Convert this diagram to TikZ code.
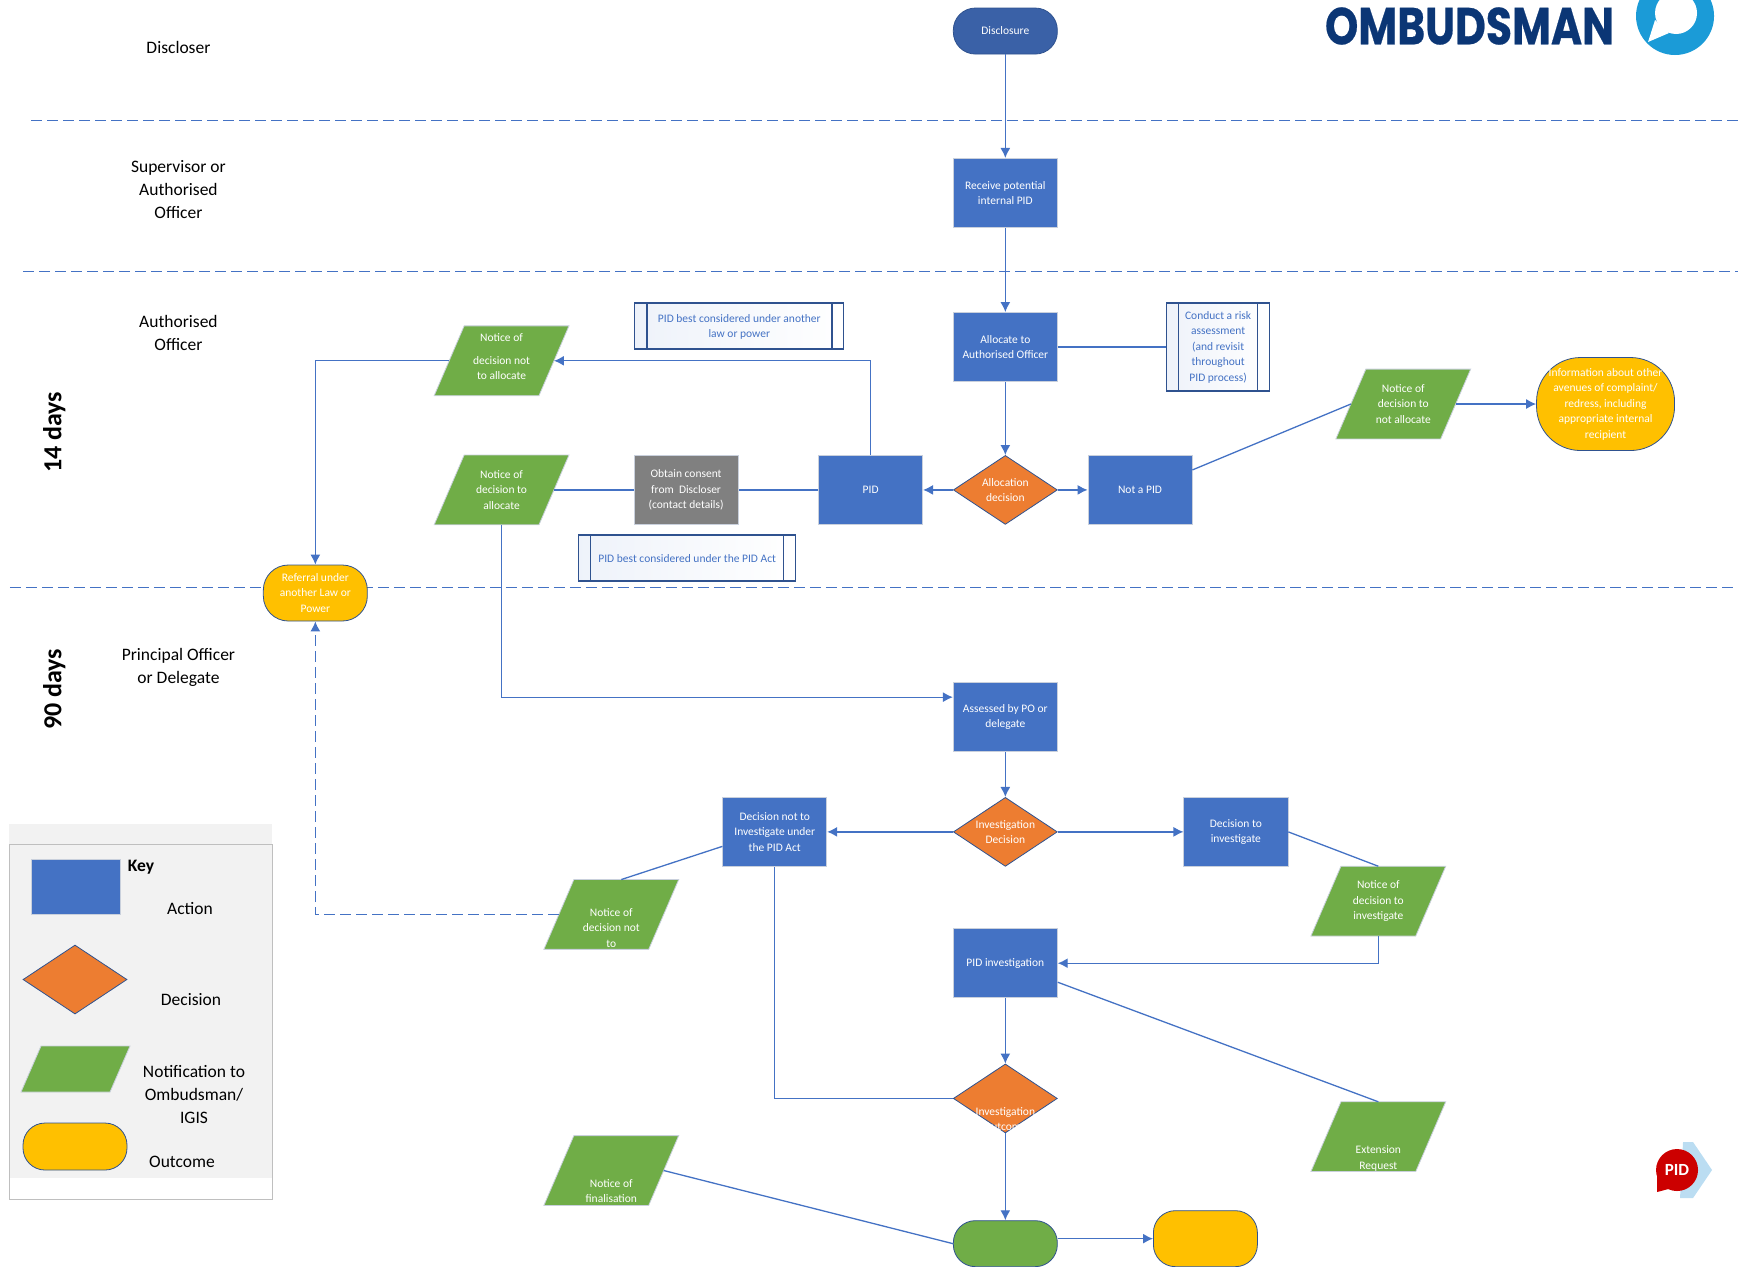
\documentclass[tikz,border=0pt]{standalone}
\usepackage{fontspec}
\usepackage{graphicx}
\setmainfont{Carlito}
\newfontfamily\logofont[BoldFeatures={FakeBold=0.5}]{Poppins}
\usetikzlibrary{arrows.meta,shapes.geometric,calc}
\makeatletter
\pgfdeclareshape{slantbox}{
  \inheritsavedanchors[from=rectangle]
  \inheritanchor[from=rectangle]{center}
  \inheritanchor[from=rectangle]{text}
  \inheritanchor[from=rectangle]{base}
  \inheritanchor[from=rectangle]{mid}
  \inheritanchor[from=rectangle]{north}
  \inheritanchor[from=rectangle]{south}
  \inheritanchorborder[from=rectangle]
  \anchor{west}{\southwest\pgf@xa=\pgf@x\pgf@ya=\pgf@y\northeast\pgf@yb=\pgf@y
    \pgf@x=\pgf@xa\advance\pgf@x by 15pt\pgf@y=.5\pgf@ya\advance\pgf@y by .5\pgf@yb}
  \anchor{east}{\southwest\pgf@ya=\pgf@y\northeast\pgf@xb=\pgf@x\pgf@yb=\pgf@y
    \pgf@x=\pgf@xb\advance\pgf@x by -15pt\pgf@y=.5\pgf@ya\advance\pgf@y by .5\pgf@yb}
  \backgroundpath{\southwest\pgf@xa=\pgf@x\pgf@ya=\pgf@y\northeast\pgf@xb=\pgf@x\pgf@yb=\pgf@y
    \pgfpathmoveto{\pgfqpoint{\pgf@xa}{\pgf@ya}}
    \pgfpathlineto{\pgfqpoint{\dimexpr\pgf@xa+30pt\relax}{\pgf@yb}}
    \pgfpathlineto{\pgfqpoint{\pgf@xb}{\pgf@yb}}
    \pgfpathlineto{\pgfqpoint{\dimexpr\pgf@xb-30pt\relax}{\pgf@ya}}
    \pgfpathclose}
}
\makeatother
\definecolor{actblue}{HTML}{4472C4}
\definecolor{outl}{HTML}{2F528F}
\definecolor{decor}{HTML}{ED7D31}
\definecolor{notgreen}{HTML}{70AD47}
\definecolor{outyel}{HTML}{FFC000}
\definecolor{pale}{HTML}{C9D0DC}
\definecolor{logonavy}{HTML}{0B3675}
\definecolor{logocyan}{HTML}{1B9BD7}
\definecolor{chev}{HTML}{BBDDF2}
\newcommand{\shifted}[2]{\smash{\raisebox{#1}{\begin{tabular}[c]{@{}c@{}}#2\end{tabular}}}}
\tikzset{
  txt/.style={font=\fontsize{11.5}{15.5}\selectfont,align=center,inner sep=0pt},
  actbox/.style={txt,rectangle,draw=pale,line width=.8pt,fill=actblue,text=white,minimum width=104pt,minimum height=69pt},
  greybox/.style={actbox,fill=black!50},
  decide/.style={txt,diamond,aspect=1.5,draw=outl,line width=.8pt,fill=decor,text=white,minimum width=104pt,minimum height=69pt},
  notice/.style={txt,slantbox,draw=pale,line width=.8pt,fill=notgreen,text=white,minimum width=134pt,minimum height=69pt},
  pill/.style={txt,rectangle,rounded corners=22pt,draw=outl,line width=.8pt,fill=outyel,text=white,minimum width=104pt,minimum height=56pt},
  predef/.style={txt,rectangle,draw=outl,line width=1.3pt,left color=actblue!9,right color=white,text=actblue,
    path picture={\draw[outl,line width=1.5pt]
      ([xshift=#1]path picture bounding box.south west)--([xshift=#1]path picture bounding box.north west)
      ([xshift=-#1]path picture bounding box.south east)--([xshift=-#1]path picture bounding box.north east);}},
  lane/.style={font=\fontsize{17.5}{23}\selectfont,align=center,inner sep=0pt},
  days/.style={font=\bfseries\fontsize{26}{28}\selectfont,rotate=90,inner sep=0pt},
  keytxt/.style={font=\fontsize{17.5}{23}\selectfont,align=center,inner sep=0pt},
  conn/.style={actblue,line width=1.3pt},
  flow/.style={conn,-{Latex[length=10pt,width=10pt]}},
  swim/.style={actblue,line width=1.2pt,dash pattern=on 11pt off 5pt},
}
\begin{document}
\begin{tikzpicture}[x=1.1084pt,y=-1.1084pt]
\useasboundingbox (0,0) rectangle (1568,1143);
% swimlane rules
\coordinate (l1a) at (28,108.5); \coordinate (l1b) at (1568,108.5);
\coordinate (l2a) at (21,245);   \coordinate (l2b) at (1568,245);
\coordinate (l3a) at (9,530);    \coordinate (l3b) at (1568,530);
\draw[swim] (l1a)--(l1b);
\draw[swim] (l2a)--(l2b);
\draw[swim] (l3a)--(l3b);
% lane labels
\node[lane] (ldisc) at (161,42.5) {Discloser};
\node[lane] (lsup) at (161,171) {Supervisor or\\Authorised\\Officer};
\node[lane] (lauth) at (161,300) {Authorised\\Officer};
\node[lane] (lprin) at (161,602.5) {Principal Officer\\or Delegate};
\node[days] (d14) at (49,390) {14 days};
\node[days] (d90) at (49,622) {90 days};
% logo
\begin{scope}[x=1pt,y=-1pt]
\fill[logocyan] (1675,16) circle (39);
\fill[white] (1676,13) circle (21);
\fill[white] (1648,42) -- (1655,20) -- (1669,33) -- cycle;
\node[inner sep=0pt,text=logonavy] (logo) at (1469.5,26) {\resizebox{289pt}{37pt}{\logofont\bfseries OMBUDSMAN}};
% PID badge
\fill[chev] (1683,1142) -- (1693,1142) -- (1712,1170) -- (1693,1198) -- (1680,1198) -- cycle;
\fill[red!80!black] (1677,1170) circle (21);
\fill[red!80!black] (1657,1170) -- (1657,1192) -- (1672,1188) -- cycle;
\node[inner sep=0pt,text=white,font=\bfseries\fontsize{17}{17}\selectfont] (pidlogo) at (1677,1170) {PID};
% key
\fill[black!5] (9,824) rectangle (272,1178);
\draw[black!25,line width=.8pt] (9,844) rectangle (272,1199);
\node[actbox,minimum width=89pt,minimum height=55pt] (kact) at (75.5,886.5) {};
\node[decide,minimum width=104pt,minimum height=69pt] (kdec) at (75,979.5) {};
\draw[pale,line width=.8pt,fill=notgreen] (21,1092) -- (41,1046) -- (130,1046) -- (110,1092) -- cycle;
\node[pill,minimum width=104pt,minimum height=47pt] (kout) at (75,1146.5) {};
\node[keytxt,font=\bfseries\fontsize{17.5}{23}\selectfont] (kkey) at (141,867) {Key};
\node[keytxt] (kt1) at (190,908) {Action};
\node[keytxt] (kt2) at (191,1000) {Decision};
\node[keytxt] (kt3) at (194,1094) {Notification to\\Ombudsman/\\IGIS};
\node[keytxt] (kt4) at (182,1162) {Outcome};
\end{scope}
% nodes
\node[pill,fill=actblue!85!black,minimum height=46pt] (disc) at (907,28) {Disclosure};
\node[actbox] (recv) at (907,174) {Receive potential\\internal PID};
\node[actbox] (alloc) at (907,313) {Allocate to\\Authorised Officer};
\node[predef=12pt,minimum width=103pt,minimum height=88pt] (risk) at (1099,313) {Conduct a risk\\assessment\\(and revisit\\throughout\\PID process)};
\node[predef=12pt,minimum width=209pt,minimum height=46pt] (best1) at (667,294) {\shifted{-4pt}{PID best considered under another\\law or power}};
\node[predef=12pt,minimum width=217pt,minimum height=46pt] (best2) at (620,503.5) {\shifted{-4.5pt}{PID best considered under the PID Act}};
\node[notice] (nna) at (452.5,325.5) {\shifted{0pt}{Notice of\\[7pt]decision not\\to allocate}};
\node[notice] (nta) at (452.5,442) {Notice of\\decision to\\allocate};
\node[greybox] (obtain) at (619,442) {Obtain consent\\from\ \ Discloser\\(contact details)};
\node[actbox] (pid) at (785.5,442) {PID};
\node[decide] (adec) at (907,442) {Allocation\\decision};
\node[actbox] (notpid) at (1028.5,442) {Not a PID};
\node[notice] (nnot) at (1266,364.5) {Notice of\\decision to\\not allocate};
\node[pill,rounded corners=44pt,minimum width=138pt,minimum height=93pt] (info) at (1448.5,364.5) {Information about other\\avenues of complaint/\\redress, including\\appropriate internal\\recipient};
\node[pill,rounded corners=25pt] (ref) at (284.5,535) {Referral under\\another Law or\\Power};
\node[actbox] (assess) at (907,647) {Assessed by PO or\\delegate};
\node[decide] (idec) at (907,750.5) {Investigation\\Decision};
\node[actbox] (dnot) at (699,750.5) {Decision not to\\Investigate under\\the PID Act};
\node[actbox] (dto) at (1115,750.5) {Decision to\\investigate};
\node[notice] (nni) at (551.5,825) {\shifted{-17pt}{Notice of\\decision not\\to}};
\node[notice] (nti) at (1243.5,813) {Notice of\\decision to\\investigate};
\node[actbox] (inv) at (907,869) {PID investigation};
\node[decide] (odec) at (907,991) {\shifted{-24.5pt}{Investigation\\Outcome}};
\node[notice] (ext) at (1243.5,1025.5) {\shifted{-24.5pt}{Extension\\Request}};
\node[notice] (nfin) at (551.5,1056) {\shifted{-24.5pt}{Notice of\\finalisation}};
\node[pill,fill=notgreen,minimum height=46pt] (gend) at (907,1122) {};
\node[pill] (yend) at (1087.5,1117.5) {};
% connectors
\draw[flow] (disc)--(recv);
\draw[flow] (recv)--(alloc);
\draw[flow] (alloc)--(adec);
\draw[conn] (alloc)--(risk);
\draw[flow] (adec)--(pid);
\draw[flow] (adec)--(notpid);
\draw[flow] (pid.north)|-(nna.east);
\draw[flow] (nna.west)-|(ref.north);
\draw[conn] (pid)--(obtain);
\draw[conn] (obtain)--(nta.east);
\draw[flow] (nta.south)|-([yshift=20pt]assess.west);
\draw[flow] (assess)--(idec);
\draw[flow] (idec)--(dnot);
\draw[flow] (idec)--(dto);
\draw[conn] ([yshift=-14.5pt]dnot.west)--([xshift=10pt]nni.north);
\draw[flow,dash pattern=on 11pt off 5pt] (nni.west)-|(ref.south);
\draw[conn] (dnot.south)|-(odec.west);
\draw[conn] (dto.east)--(nti.north);
\draw[flow] (nti.south)|-(inv.east);
\draw[flow] (inv)--(odec);
\draw[conn] ([yshift=-19pt]inv.east)--(ext.north);
\draw[flow] (odec)--(gend);
\draw[conn] (nfin.east)--(gend.west);
\draw[flow] (gend.east|-yend.west)--(yend.west);
\draw[conn] ([yshift=20pt]notpid.east)--(nnot.west);
\draw[flow] (nnot.east)--(info.west);
\end{tikzpicture}
\end{document}
